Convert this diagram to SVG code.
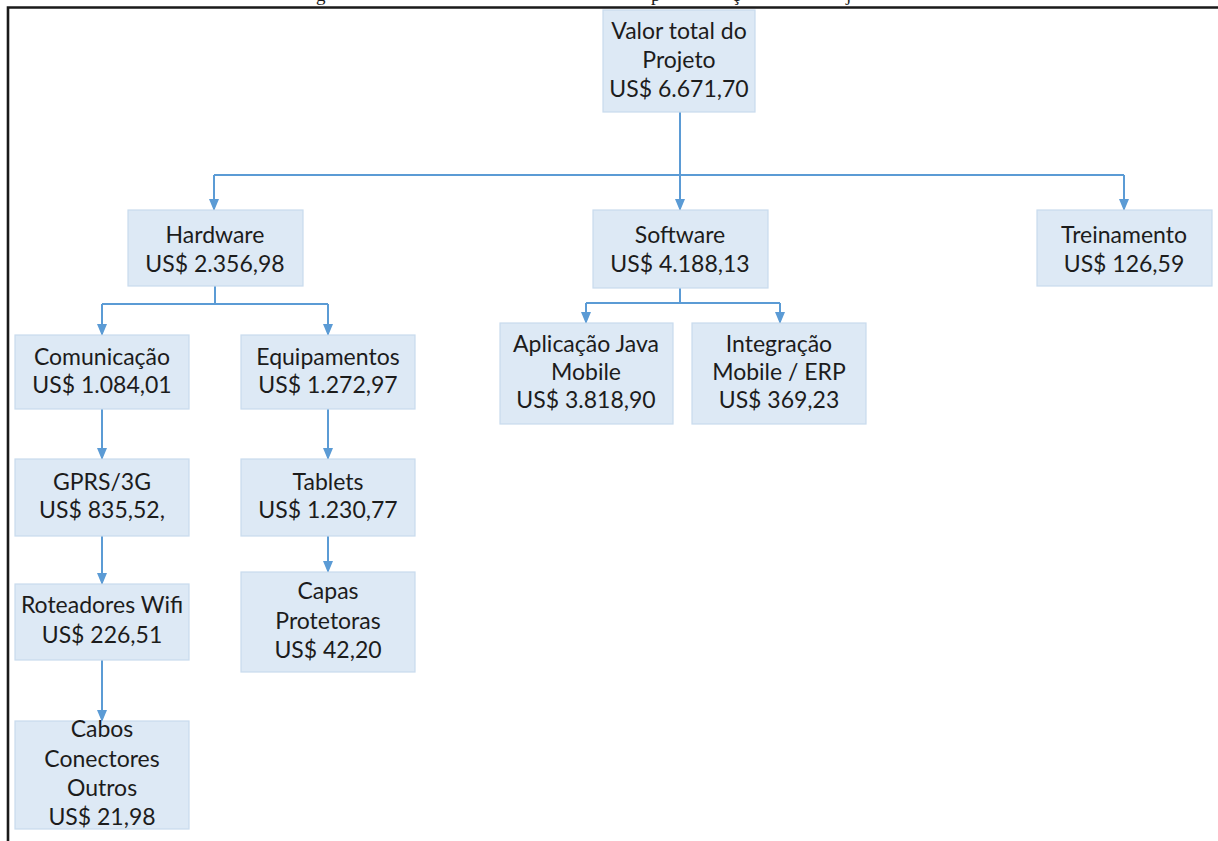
<svg xmlns="http://www.w3.org/2000/svg" width="1218" height="841" viewBox="0 0 1218 841">
  <style>
    .box { fill: #dde9f5; stroke: #c8dbed; stroke-width: 1.2; }
    .lbl { font-family: Lato, "Liberation Sans", sans-serif; font-size: 23px; fill: #1c1c1c; text-anchor: middle; }
    .wire { fill: none; stroke: #5b9bd5; stroke-width: 2; }
    .frame { fill: none; stroke: #1a1a1a; stroke-width: 2.6; }
    .cap { font-family: "Liberation Serif", serif; font-size: 19px; fill: #1a1a1a; }
  </style>
  <defs>
    <marker id="arrow" viewBox="0 0 12 10" refX="11" refY="5" markerWidth="12" markerHeight="10" markerUnits="userSpaceOnUse" orient="auto">
      <path d="M0,0 L12,5 L0,10 Z" fill="#5b9bd5"/>
    </marker>
  </defs>

  <rect width="1218" height="841" fill="#ffffff"/>

  <!-- caption line cut by the top edge: only descenders remain -->
  <g id="caption">
    <text class="cap" x="316" y="1">g</text>
    <text class="cap" x="651" y="1">p</text>
    <text class="cap" x="732" y="1">ç</text>
    <text class="cap" x="846" y="1">j</text>
  </g>

  <!-- page frame -->
  <path class="frame" d="M8,841 L8,7.5 L1218,7.5"/>

  <!-- connectors -->
  <g id="connectors">
    <path class="wire" d="M680,112 L680,175"/>
    <path class="wire" d="M214,175 L1124,175"/>
    <path class="wire" d="M214,175 L214,210" marker-end="url(#arrow)"/>
    <path class="wire" d="M680,175 L680,210" marker-end="url(#arrow)"/>
    <path class="wire" d="M1124,175 L1124,210" marker-end="url(#arrow)"/>

    <path class="wire" d="M215,286 L215,304 M102,304 L328,304"/>
    <path class="wire" d="M102,304 L102,335" marker-end="url(#arrow)"/>
    <path class="wire" d="M328,304 L328,335" marker-end="url(#arrow)"/>

    <path class="wire" d="M680,288 L680,303 M586,303 L780,303"/>
    <path class="wire" d="M586,303 L586,323" marker-end="url(#arrow)"/>
    <path class="wire" d="M780,303 L780,323" marker-end="url(#arrow)"/>

    <path class="wire" d="M102,409 L102,459" marker-end="url(#arrow)"/>
    <path class="wire" d="M102,536 L102,584" marker-end="url(#arrow)"/>
    <path class="wire" d="M102,660 L102,721" marker-end="url(#arrow)"/>
    <path class="wire" d="M328,409 L328,459" marker-end="url(#arrow)"/>
    <path class="wire" d="M328,536 L328,572" marker-end="url(#arrow)"/>
  </g>

  <!-- nodes -->
  <g id="root">
    <rect class="box" x="603" y="10" width="152" height="102"/>
    <text class="lbl" x="679" y="39">Valor total do</text>
    <text class="lbl" x="679" y="68">Projeto</text>
    <text class="lbl" x="679" y="97">US$ 6.671,70</text>
  </g>

  <g id="hardware">
    <rect class="box" x="128" y="210" width="175" height="76"/>
    <text class="lbl" x="215" y="243">Hardware</text>
    <text class="lbl" x="215" y="272">US$ 2.356,98</text>
  </g>

  <g id="software">
    <rect class="box" x="593" y="210" width="175" height="78"/>
    <text class="lbl" x="680" y="243">Software</text>
    <text class="lbl" x="680" y="272">US$ 4.188,13</text>
  </g>

  <g id="treinamento">
    <rect class="box" x="1037" y="210" width="175" height="76"/>
    <text class="lbl" x="1124" y="243">Treinamento</text>
    <text class="lbl" x="1124" y="272">US$ 126,59</text>
  </g>

  <g id="comunicacao">
    <rect class="box" x="15" y="335" width="174" height="74"/>
    <text class="lbl" x="102" y="365">Comunicação</text>
    <text class="lbl" x="102" y="393">US$ 1.084,01</text>
  </g>

  <g id="equipamentos">
    <rect class="box" x="241" y="335" width="174" height="74"/>
    <text class="lbl" x="328" y="365">Equipamentos</text>
    <text class="lbl" x="328" y="393">US$ 1.272,97</text>
  </g>

  <g id="aplicacao-java">
    <rect class="box" x="500" y="323" width="173" height="101"/>
    <text class="lbl" x="586" y="352">Aplicação Java</text>
    <text class="lbl" x="586" y="380">Mobile</text>
    <text class="lbl" x="586" y="408">US$ 3.818,90</text>
  </g>

  <g id="integracao">
    <rect class="box" x="692" y="323" width="174" height="101"/>
    <text class="lbl" x="779" y="352">Integração</text>
    <text class="lbl" x="779" y="380">Mobile / ERP</text>
    <text class="lbl" x="779" y="408">US$ 369,23</text>
  </g>

  <g id="gprs">
    <rect class="box" x="15" y="459" width="174" height="77"/>
    <text class="lbl" x="102" y="490">GPRS/3G</text>
    <text class="lbl" x="102" y="518">US$ 835,52,</text>
  </g>

  <g id="tablets">
    <rect class="box" x="241" y="459" width="174" height="77"/>
    <text class="lbl" x="328" y="490">Tablets</text>
    <text class="lbl" x="328" y="518">US$ 1.230,77</text>
  </g>

  <g id="roteadores">
    <rect class="box" x="15" y="584" width="174" height="76"/>
    <text class="lbl" x="102" y="613">Roteadores Wifi</text>
    <text class="lbl" x="102" y="643">US$ 226,51</text>
  </g>

  <g id="capas">
    <rect class="box" x="241" y="572" width="174" height="100"/>
    <text class="lbl" x="328" y="599">Capas</text>
    <text class="lbl" x="328" y="629">Protetoras</text>
    <text class="lbl" x="328" y="658">US$ 42,20</text>
  </g>

  <g id="cabos">
    <rect class="box" x="15" y="721" width="174" height="108"/>
    <text class="lbl" x="102" y="737">Cabos</text>
    <text class="lbl" x="102" y="767">Conectores</text>
    <text class="lbl" x="102" y="796">Outros</text>
    <text class="lbl" x="102" y="825">US$ 21,98</text>
  </g>
</svg>
